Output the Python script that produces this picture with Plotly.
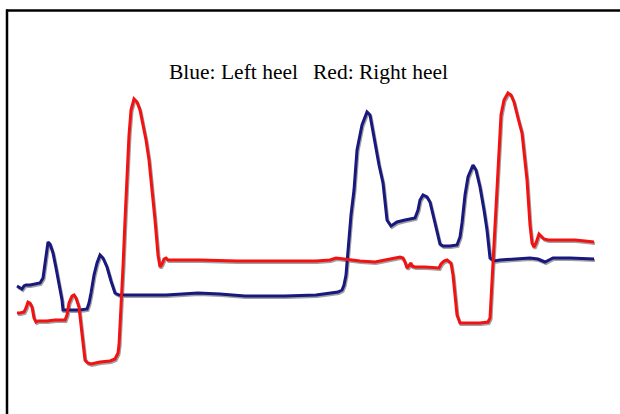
import plotly.graph_objects as go

W, H = 620, 414

# Sample positions (time, arbitrary units) and pressure readings (arbitrary units)
blue_t = [17, 20, 22, 24, 26, 30, 35, 40, 43, 45, 48, 50, 53, 56, 59, 62, 63, 70, 80, 87,
          89, 91, 94, 97, 100, 103, 107, 111, 115, 119, 140, 166, 198, 220, 245, 285, 316,
          332, 338, 342, 344, 346, 348, 351, 354, 357, 362, 367, 370, 375, 379, 383, 387,
          391, 397, 405, 415, 418, 420, 423, 427, 430, 434, 437, 440, 443, 450, 457, 460,
          462, 465, 468, 473, 476, 480, 484, 487, 490, 494, 500, 520, 530, 538, 545, 549,
          553, 570, 594]
blue_p = [286, 288, 289, 286, 285, 285, 284, 283, 278, 262, 242, 244, 253, 268, 283, 300,
          310, 310, 310, 309, 303, 293, 275, 263, 255, 258, 267, 281, 293, 295, 295, 295,
          293, 294, 296, 296, 295, 293, 292, 290, 285, 275, 250, 215, 190, 150, 125, 112,
          115, 143, 165, 183, 220, 226, 222, 220, 218, 210, 200, 195, 197, 202, 218, 233,
          244, 246, 246, 245, 237, 223, 195, 177, 165, 170, 187, 210, 230, 258, 261, 260,
          259, 258, 259, 262, 260, 258, 258, 259]

red_t = [17, 20, 24, 26, 28, 30, 32, 34, 36, 38, 40, 47, 55, 65, 67, 69, 72, 74, 76, 79,
         81, 83, 85, 88, 91, 100, 110, 115, 118, 119, 121, 123, 125, 127, 129, 131, 134, 137,
         140, 143, 146, 149, 152, 155, 158, 160, 162, 164, 166, 168, 174, 200, 237, 280, 316,
         330, 336, 344, 360, 375, 390, 400, 403, 405, 407, 409, 411, 412, 415, 425, 435, 439,
         441, 444, 447, 449, 451, 453, 455, 457, 460, 470, 480, 488, 490, 491, 493, 495, 497,
         499, 501, 504, 508, 511, 514, 518, 522, 527, 530, 532, 534, 536, 539, 541, 544, 548,
         560, 575, 585, 594]
red_p = [313, 313, 312, 308, 302, 303, 307, 318, 322, 321, 321, 321, 320, 320, 315, 303,
         296, 295, 298, 307, 325, 345, 360, 363, 364, 362, 361, 359, 353, 345, 310, 267, 220,
         175, 135, 110, 99, 102, 110, 125, 140, 160, 187, 220, 255, 267, 264, 259, 258, 260,
         260, 260, 261, 261, 261, 260, 258, 259, 261, 262, 259, 257, 258, 262, 268, 265, 263,
         266, 267, 267, 268, 268, 264, 261, 260, 262, 263, 275, 295, 315, 323, 323, 323, 322,
         318, 300, 262, 220, 180, 140, 115, 100, 93, 95, 102, 118, 133, 180, 225, 243, 247,
         243, 234, 236, 239, 240, 240, 240, 241, 242]

# pressure axis: larger reading drawn higher
blue_v = [H - p for p in blue_p]
red_v = [H - p for p in red_p]

label_left = "Blue: Left heel"
label_right = "Red: Right heel"

BLUE = "#18187e"
RED = "#f21212"
SHADOW = "#a0a0a0"

fig = go.Figure()
# soft drop shadow under each curve (same data on slightly offset base axes)
for t, v in ((blue_t, blue_v), (red_t, red_v)):
    fig.add_trace(go.Scatter(x=t, y=v, mode="lines", xaxis="x", yaxis="y",
                             line=dict(color=SHADOW, width=3), hoverinfo="skip",
                             showlegend=False))
# main curves on the overlaying axes (drawn on top)
fig.add_trace(go.Scatter(x=blue_t, y=blue_v, mode="lines", name="Left heel",
                         xaxis="x2", yaxis="y2",
                         line=dict(color=BLUE, width=3), showlegend=False))
fig.add_trace(go.Scatter(x=red_t, y=red_v, mode="lines", name="Right heel",
                         xaxis="x2", yaxis="y2",
                         line=dict(color=RED, width=3), showlegend=False))

axis_common = dict(visible=False, showgrid=False, zeroline=False, fixedrange=True)
fig.update_layout(
    width=W, height=H,
    margin=dict(l=0, r=0, t=0, b=0),
    paper_bgcolor="white", plot_bgcolor="white",
    xaxis=dict(range=[-1, W - 1], **axis_common),
    yaxis=dict(range=[1.5, H + 1.5], **axis_common),
    xaxis2=dict(range=[0, W], overlaying="x", **axis_common),
    yaxis2=dict(range=[0, H], overlaying="y", **axis_common),
    font=dict(family="Liberation Serif, Times New Roman, serif", color="#000000"),
    shapes=[
        dict(type="line", xref="paper", yref="paper", x0=7 / W, x1=7 / W,
             y0=0, y1=1 - 9.5 / H, line=dict(color="black", width=2.5)),
        dict(type="line", xref="paper", yref="paper", x0=6 / W, x1=1,
             y0=1 - 10.5 / H, y1=1 - 10.5 / H, line=dict(color="black", width=2.5)),
    ],
    annotations=[
        dict(text=label_left, xref="paper", yref="paper", x=167 / W, y=1 - 71.5 / H,
             xanchor="left", yanchor="middle", showarrow=False,
             font=dict(size=21.5)),
        dict(text=label_right, xref="paper", yref="paper", x=311 / W, y=1 - 71.5 / H,
             xanchor="left", yanchor="middle", showarrow=False,
             font=dict(size=21.5)),
    ],
)

fig.write_html("out.html", config={"displayModeBar": False},
               post_script="document.body.style.margin='0';")
